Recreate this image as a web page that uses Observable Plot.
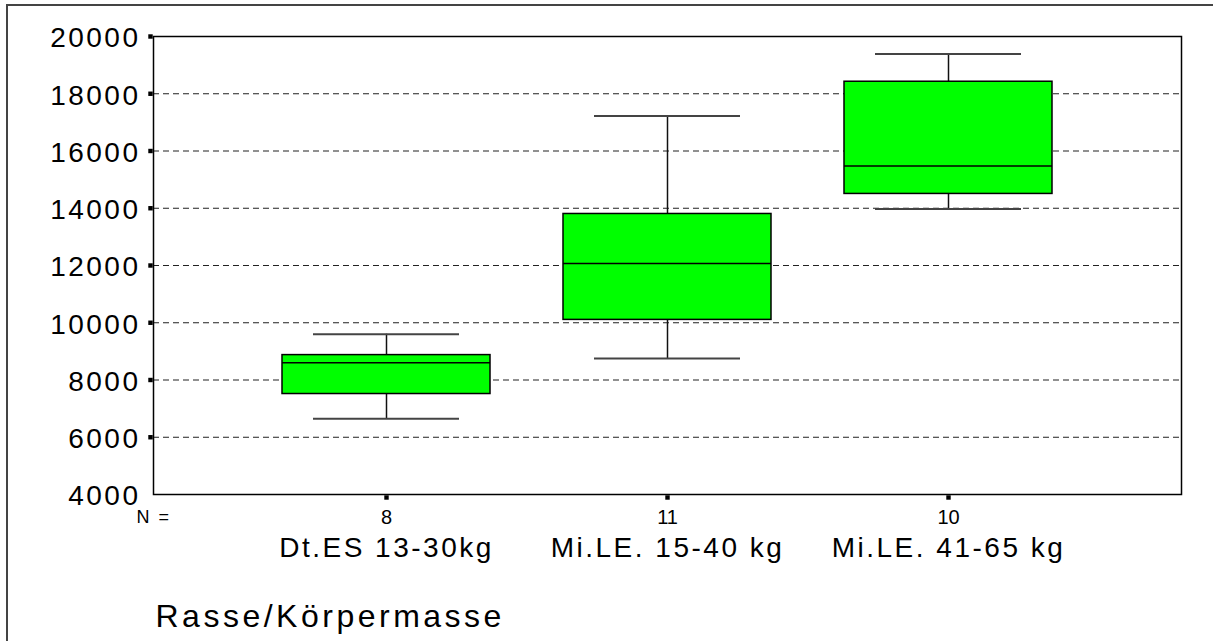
<!DOCTYPE html>
<html>
<head>
<meta charset="utf-8">
<script src="https://cdn.jsdelivr.net/npm/d3@7"></script>
<script src="https://cdn.jsdelivr.net/npm/@observablehq/plot@0.6"></script>
<style>
  html, body { margin: 0; padding: 0; background: #fff; }
  #wrap { position: relative; width: 1213px; height: 641px; overflow: hidden; }
  #border { position: absolute; left: 6px; top: 4px; width: 1300px; height: 800px;
            border-left: 2px solid #444; border-top: 2px solid #444; pointer-events: none; }
  svg { font-family: "Liberation Sans", Arial, sans-serif; }
</style>
</head>
<body>
<div id="wrap"><div id="border"></div></div>
<script>
const categories = ["Dt.ES 13-30kg", "Mi.LE. 15-40 kg", "Mi.LE. 41-65 kg"];
const nValues = [8, 11, 10];
const whiskerLow = [6650, 8750, 13970];
const q1 = [7510, 10100, 14500];
const median = [8600, 12070, 15480];
const q3 = [8870, 13800, 18420];
const whiskerHigh = [9600, 17220, 19390];
const yTicks = [4000, 6000, 8000, 10000, 12000, 14000, 16000, 18000, 20000];
const gridTicks = [6000, 8000, 10000, 12000, 14000, 16000, 18000, 20000];
const axisTitle = "Rasse/Körpermasse";
const nLabel = "N =";

const rows = categories.map((c, i) => ({
  cat: c, n: nValues[i], lo: whiskerLow[i], q1: q1[i], med: median[i], q3: q3[i], hi: whiskerHigh[i]
}));
const nOf = new Map(rows.map(d => [d.cat, d.n]));

const W = 1213, H = 641, mT = 36, mB = 147, mL = 153, mR = 32;

const chart = Plot.plot({
  width: W,
  height: H,
  marginTop: mT,
  marginBottom: mB,
  marginLeft: mL,
  marginRight: mR,
  style: {fontFamily: "Liberation Sans, Arial, sans-serif", background: "transparent", color: "#000"},
  x: {type: "band", domain: categories, paddingInner: 0.26, paddingOuter: 0.459, label: null, axis: null},
  y: {domain: [4000, 20000], label: null, axis: null},
  marks: [
    Plot.ruleY(gridTicks, {stroke: "#222", strokeWidth: 1.2, strokeDasharray: "6,4"}),
    Plot.ruleX(rows, {x: "cat", y1: "q3", y2: "hi", stroke: "#111", strokeWidth: 1.5}),
    Plot.ruleX(rows, {x: "cat", y1: "lo", y2: "q1", stroke: "#111", strokeWidth: 1.5}),
    Plot.tickY(rows, {x: "cat", y: "hi", stroke: "#444", strokeWidth: 2, insetLeft: 31, insetRight: 31}),
    Plot.tickY(rows, {x: "cat", y: "lo", stroke: "#444", strokeWidth: 2, insetLeft: 31, insetRight: 31}),
    Plot.barY(rows, {x: "cat", y1: "q1", y2: "q3", fill: "#00ff00", stroke: "#000", strokeWidth: 1.5}),
    Plot.tickY(rows, {x: "cat", y: "med", stroke: "#000", strokeWidth: 1.5}),
    Plot.frame({stroke: "#000", strokeWidth: 1.5}),
    // short tick marks left of the frame (y) and below it (x)
    Plot.dot(gridTicks, {y: d => d, frameAnchor: "left", symbol: "square", r: 2.5, fill: "#000", dx: -3}),
    Plot.dot(categories, {x: d => d, frameAnchor: "bottom", symbol: "square", r: 2.5, fill: "#000", dy: 3}),
    Plot.axisY(yTicks, {anchor: "left", tickSize: 0, tickPadding: 13, fontSize: 28, dy: 2, fill: "#000", tickFormat: d => String(d), label: null}),
    Plot.axisX({anchor: "bottom", tickSize: 0, tickPadding: 15, fontSize: 20, tickFormat: d => String(nOf.get(d)), fill: "#000", label: null}),
    Plot.axisX({anchor: "bottom", tickSize: 0, tickPadding: 43, fontSize: 28, tickFormat: d => d, fill: "#000", label: null}),
    Plot.text([nLabel], {text: d => d, frameAnchor: "bottom-left", textAnchor: "start", lineAnchor: "top", dx: -17, dy: 16, fontSize: 18, fill: "#000"}),
    Plot.text([axisTitle], {text: d => d, frameAnchor: "bottom-left", textAnchor: "start", lineAnchor: "top", dx: 2, dy: 110, fontSize: 32, fill: "#000"})
  ]
});

d3.select(chart).selectAll("g[font-size='28']").attr("letter-spacing", "2.5px");
d3.select(chart).selectAll("g[font-size='32']").attr("letter-spacing", "3.5px");
d3.select(chart).selectAll("g[font-size='18']").attr("letter-spacing", "2px");

document.getElementById("wrap").insertBefore(chart, document.getElementById("border"));
</script>
</body>
</html>
